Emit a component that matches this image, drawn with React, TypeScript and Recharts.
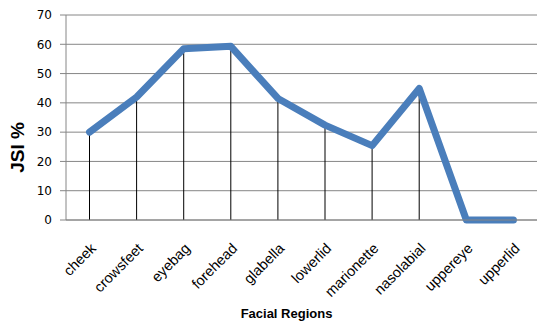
import {
  ComposedChart,
  Line,
  Bar,
  XAxis,
  YAxis,
  CartesianGrid,
  Label,
} from "recharts";

const regions = [
  "cheek",
  "crowsfeet",
  "eyebag",
  "forehead",
  "glabella",
  "lowerlid",
  "marionette",
  "nasolabial",
  "uppereye",
  "upperlid",
];
const jsiValues = [30, 42, 58.5, 59.3, 41.5, 32.4, 25.4, 44.9, 0, 0];
const yTicks = [0, 10, 20, 30, 40, 50, 60, 70];

const data = regions.map((region, i) => ({ region, jsi: jsiValues[i] }));

const gray = "#868686";

const YTitle = ({ viewBox }: any) => {
  const x = viewBox.x + 24;
  const y = viewBox.y + viewBox.height / 2 + 30;
  return (
    <text
      x={x}
      y={y}
      transform={`rotate(-90, ${x}, ${y})`}
      textAnchor="middle"
      fontFamily="Liberation Sans"
      fontWeight="bold"
      fontSize={19}
      fill="#000"
    >
      JSI %
    </text>
  );
};

const XTitle = ({ viewBox }: any) => {
  const x = viewBox.x + viewBox.width / 2 - 15;
  const y = viewBox.y + 98;
  return (
    <text
      x={x}
      y={y}
      textAnchor="middle"
      fontFamily="Liberation Sans"
      fontWeight="bold"
      fontSize={13}
      fill="#000"
    >
      Facial Regions
    </text>
  );
};

export default function App() {
  return (
    <div style={{ position: "absolute", left: 0, top: 0, background: "#fff" }}>
      <ComposedChart
        width={550}
        height={328}
        data={data}
        margin={{ top: 15, right: 13, left: 0, bottom: 8 }}
      >
        <CartesianGrid vertical={false} stroke={gray} strokeWidth={1} />
        <XAxis
          dataKey="region"
          height={100}
          axisLine={{ stroke: gray }}
          tickLine={false}
          interval={0}
          angle={-45}
          textAnchor="end"
          tick={{ fontFamily: "Liberation Sans", fontSize: 14.5, fill: "#000" }}
          tickMargin={16}
        >
          <Label content={<XTitle />} />
        </XAxis>
        <YAxis
          width={66}
          domain={[0, 70]}
          ticks={yTicks}
          interval={0}
          axisLine={{ stroke: gray }}
          tickLine={{ stroke: gray }}
          tickSize={6}
          tickMargin={8}
          tick={{ fontFamily: "DejaVu Sans", fontSize: 12, fill: "#000" }}
        >
          <Label content={<YTitle />} />
        </YAxis>
        <Bar dataKey="jsi" barSize={1} fill="#000" isAnimationActive={false} />
        <Line
          type="linear"
          dataKey="jsi"
          stroke="#4a7ebb"
          strokeWidth={7}
          strokeLinejoin="round"
          strokeLinecap="round"
          dot={false}
          activeDot={false}
          isAnimationActive={false}
        />
      </ComposedChart>
    </div>
  );
}
